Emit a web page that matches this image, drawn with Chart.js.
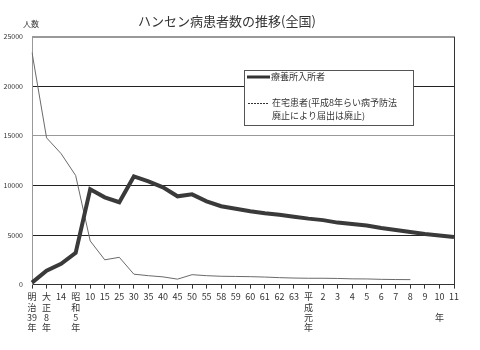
<!DOCTYPE html>
<html>
<head>
<meta charset="utf-8">
<script src="https://cdn.jsdelivr.net/npm/chart.js@4.4.0/dist/chart.umd.min.js"></script>
<style>
  html, body { margin: 0; padding: 0; background: #fff; }
  #wrap { width: 480px; height: 350px; }
</style>
</head>
<body>
<div id="wrap"><canvas id="graf"></canvas></div>
<script>
// anos (eixo horizontal) - rotulos verticais em varias linhas
var nendo = [['明','治','39','年'], ['大','正','8','年'], '14', ['昭','和','5','年'],
  '10','15','25','30','35','40','45','50','55','58','59','60','61','62','63',
  ['平','成','元','年'], '2','3','4','5','6','7','8','9', ['10','','年'], '11'];
// 療養所入所者
var nyusho = [200,1400,2100,3200,9600,8800,8300,10900,10400,9800,8900,9100,8400,7900,7650,
  7400,7200,7050,6850,6650,6500,6250,6100,5950,5700,5500,5300,5100,4950,4800];
// 在宅患者
var zaitaku = [23400,14800,13200,11000,4400,2500,2750,1050,900,780,550,1000,900,840,820,
  800,760,700,660,640,640,620,580,570,530,510,500,null,null,null];
var yTicks = [0,5000,10000,15000,20000,25000];

var fonte = '"Noto Sans CJK JP", "Noto Sans", sans-serif';

// legenda desenhada dentro do grafico + borda direita + rotulo 人数
var extras = {
  id: 'extras',
  afterDatasetsDraw: function(chart) {
    var c = chart.ctx;
    var a = chart.chartArea;
    c.save();
    // borda direita
    c.strokeStyle = '#333';
    c.lineWidth = 1;
    c.beginPath();
    c.moveTo(a.right + 0.5, a.top);
    c.lineTo(a.right + 0.5, a.bottom);
    c.stroke();
    // 人数
    c.fillStyle = '#333';
    c.font = '8px ' + fonte;
    c.textAlign = 'center';
    c.textBaseline = 'middle';
    c.fillText('人数', 31, 24);
    // caixa da legenda
    c.fillStyle = '#fff';
    c.fillRect(244, 70, 169, 55);
    c.strokeStyle = '#555';
    c.strokeRect(244.5, 70.5, 169, 55);
    c.strokeStyle = '#333';
    c.lineWidth = 3;
    c.beginPath();
    c.moveTo(247, 77);
    c.lineTo(270, 77);
    c.stroke();
    c.lineWidth = 1;
    c.setLineDash([2, 1]);
    c.beginPath();
    c.moveTo(248, 103.5);
    c.lineTo(269, 103.5);
    c.stroke();
    c.setLineDash([]);
    c.fillStyle = '#333';
    c.font = '9px ' + fonte;
    c.textAlign = 'left';
    c.fillText(chart.data.datasets[0].label, 271, 77);
    c.fillText('在宅患者(平成8年らい病予防法', 272, 103);
    c.fillText('廃止により届出は廃止)', 272, 116);
    c.restore();
  }
};

var ctx = document.getElementById('graf');
var graf = new Chart(ctx, {
  type: 'line',
  data: {
    labels: nendo,
    datasets: [
      {
        label: '療養所入所者',
        data: nyusho,
        borderColor: '#3a3a3a',
        borderWidth: 4,
        pointRadius: 0,
        tension: 0,
        fill: false
      },
      {
        label: '在宅患者',
        data: zaitaku,
        borderColor: '#6a6a6a',
        borderWidth: 1,
        pointRadius: 0,
        tension: 0,
        fill: false
      }
    ]
  },
  options: {
    responsive: true,
    maintainAspectRatio: false,
    animation: false,
    layout: { padding: { top: 0, right: 26, bottom: 14, left: 0 } },
    plugins: {
      legend: { display: false },
      tooltip: { enabled: false },
      title: {
        display: true,
        text: 'ハンセン病患者数の推移(全国)',
        color: '#333',
        font: { family: fonte, size: 13, weight: 'normal' },
        padding: { top: 13, bottom: 8 }
      }
    },
    scales: {
      x: {
        grid: { display: true, drawOnChartArea: false, drawTicks: true, tickLength: 4, color: '#333' },
        border: { color: '#333' },
        ticks: {
          color: '#333',
          autoSkip: false,
          maxRotation: 0,
          padding: 3,
          font: { family: fonte, size: 9, lineHeight: 1.15 }
        }
      },
      y: {
        min: 0,
        max: 25000,
        afterBuildTicks: function(s) { s.ticks = yTicks.map(function(v) { return { value: v }; }); },
        afterFit: function(s) { s.width = 32; },
        grid: {
          drawTicks: false,
          color: function(c) {
            var v = c.tick ? c.tick.value : 0;
            if (v === 25000 || v === 15000) return '#999';
            return '#222';
          },
          lineWidth: function(c) { return c.tick && c.tick.value === 25000 ? 2 : 1; }
        },
        border: { color: '#999' },
        ticks: {
          color: '#333',
          padding: 9,
          font: { family: fonte, size: 7 },
          callback: function(v) { return String(v); }
        }
      }
    }
  },
  plugins: [extras]
});
</script>
</body>
</html>
